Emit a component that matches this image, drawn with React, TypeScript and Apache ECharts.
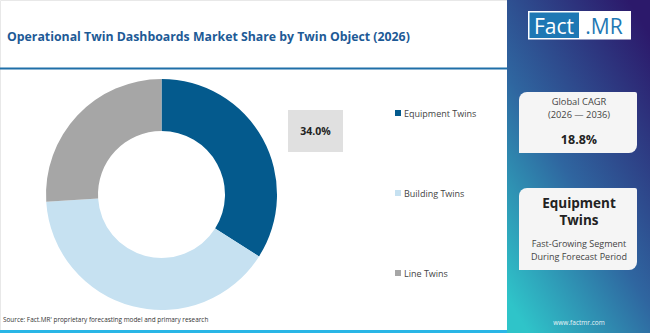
import React, { useEffect, useRef } from "react";
import * as echarts from "echarts";

// Market share by twin object, 2026 (%)
const segments = ["Equipment Twins", "Building Twins", "Line Twins"];
const shares = [34.0, 40.0, 26.0];
const colors = ["#045a8d", "#c6e1f1", "#a6a6a6"];

const titleText = "Operational Twin Dashboards Market Share by Twin Object (2026)";
const sourceText = "Source: Fact.MR' proprietary forecasting model and primary research";
const cagrLabel = ["Global CAGR", "(2026 \u2014 2036)"];
const cagrValue = "18.8%";
const leadSegment = ["Equipment", "Twins"];
const leadCaption = ["Fast-Growing Segment", "During Forecast Period"];

const FONT = "'Open Sans', 'Noto Sans', sans-serif";

export default function App() {
  const ref = useRef<HTMLDivElement>(null);

  useEffect(() => {
    if (!ref.current) return;
    const chart = echarts.init(ref.current, null, { renderer: "svg" });

    const panelX = 507;
    const panelW = 650 - panelX;
    const panelCx = panelX + panelW / 2 + 0.5;

    chart.setOption({
      animation: false,
      backgroundColor: "#ffffff",
      textStyle: { fontFamily: FONT },
      legend: {
        orient: "vertical",
        left: 390,
        top: 101,
        itemWidth: 6,
        itemHeight: 6,
        itemGap: 66,
        icon: "rect",
        selectedMode: false,
        textStyle: { fontSize: 9, color: "#444", fontFamily: FONT, lineHeight: 14, padding: [0, 0, 0, -2] },
        data: segments,
      },
      series: [
        {
          type: "pie",
          center: [161.5, 194.5],
          radius: [63.5, 115.5],
          startAngle: 90,
          clockwise: true,
          label: { show: false },
          labelLine: { show: false },
          emphasis: { disabled: true },
          data: segments.map((name, i) => ({
            name,
            value: shares[i],
            itemStyle: { color: colors[i] },
          })),
        },
      ],
      graphic: [
        // frame and header rule
        { type: "rect", shape: { x: 0.5, y: 0.5, width: panelX, height: 332 }, style: { fill: "none", stroke: "#e8e8e8", lineWidth: 1 }, silent: true },
        { type: "rect", shape: { x: 0, y: 67.5, width: panelX, height: 2 }, style: { fill: "#1f6fa8" }, silent: true },
        { type: "rect", shape: { x: 0, y: 330, width: panelX, height: 3 }, style: { fill: "#29b6e6" }, silent: true },
        {
          type: "text",
          x: 7,
          y: 36,
          style: { text: titleText, fontSize: 12.3, fontWeight: "bold", fill: "#1d5a96", verticalAlign: "middle", fontFamily: FONT },
        },
        {
          type: "text",
          x: 3,
          y: 319.5,
          style: { text: sourceText, fontSize: 6.4, fill: "#333", verticalAlign: "middle", fontFamily: FONT },
        },
        // value callout for the leading segment
        { type: "rect", shape: { x: 288, y: 110, width: 55, height: 42 }, style: { fill: "#e0e0e0" }, silent: true },
        {
          type: "text",
          x: 315.5,
          y: 131,
          style: {
            text: shares[0].toFixed(1) + "%",
            fontSize: 10.5,
            fontWeight: "bold",
            fill: "#222",
            align: "center",
            verticalAlign: "middle",
            fontFamily: FONT,
          },
        },
        // side panel
        {
          type: "rect",
          shape: { x: panelX, y: 0, width: panelW, height: 333 },
          style: {
            fill: new echarts.graphic.LinearGradient(0.15, 1, 0.85, 0, [
              { offset: 0, color: "#2fc4c9" },
              { offset: 0.45, color: "#2f66a0" },
              { offset: 1, color: "#2c196b" },
            ]),
          },
          silent: true,
        },
        // logo
        { type: "rect", shape: { x: 528, y: 11, width: 103, height: 28.5 }, style: { fill: "#ffffff" }, silent: true },
        { type: "rect", shape: { x: 529.5, y: 12.5, width: 49.5, height: 25.5 }, style: { fill: "#1e78b4" }, silent: true },
        {
          type: "text",
          x: 554,
          y: 25.5,
          style: { text: "Fact", fontSize: 21, fill: "#ffffff", align: "center", verticalAlign: "middle", fontFamily: FONT },
        },
        {
          type: "text",
          x: 604,
          y: 25.5,
          style: { text: ".MR", fontSize: 21, fill: "#1e78b4", align: "center", verticalAlign: "middle", fontFamily: FONT },
        },
        // CAGR card
        { type: "rect", shape: { x: 519, y: 92, width: 118, height: 61, r: [8, 2, 8, 0] }, style: { fill: "#f5f5f5" }, silent: true },
        {
          type: "text",
          x: panelCx,
          y: 101.5,
          style: { text: cagrLabel[0], fontSize: 9.3, fill: "#444", align: "center", verticalAlign: "middle", fontFamily: FONT },
        },
        {
          type: "text",
          x: panelCx,
          y: 114,
          style: { text: cagrLabel[1], fontSize: 9.3, fill: "#444", align: "center", verticalAlign: "middle", fontFamily: FONT },
        },
        {
          type: "text",
          x: panelCx,
          y: 139,
          style: { text: cagrValue, fontSize: 12.5, fontWeight: "bold", fill: "#222", align: "center", verticalAlign: "middle", fontFamily: FONT },
        },
        // leading segment card
        { type: "rect", shape: { x: 519, y: 188, width: 118, height: 82, r: [8, 2, 8, 0] }, style: { fill: "#f5f5f5" }, silent: true },
        {
          type: "text",
          x: panelCx,
          y: 203,
          style: { text: leadSegment[0], fontSize: 13.5, fontWeight: "bold", fill: "#222", align: "center", verticalAlign: "middle", fontFamily: FONT },
        },
        {
          type: "text",
          x: panelCx,
          y: 220,
          style: { text: leadSegment[1], fontSize: 13.5, fontWeight: "bold", fill: "#222", align: "center", verticalAlign: "middle", fontFamily: FONT },
        },
        {
          type: "text",
          x: panelCx,
          y: 243,
          style: { text: leadCaption[0], fontSize: 9, fill: "#444", align: "center", verticalAlign: "middle", fontFamily: FONT },
        },
        {
          type: "text",
          x: panelCx,
          y: 256,
          style: { text: leadCaption[1], fontSize: 9, fill: "#444", align: "center", verticalAlign: "middle", fontFamily: FONT },
        },
        {
          type: "text",
          x: panelCx,
          y: 322,
          style: { text: "www.factmr.com", fontSize: 6.5, fill: "#e8f4f8", align: "center", verticalAlign: "middle", fontFamily: FONT },
        },
      ],
    });

    return () => chart.dispose();
  }, []);

  return (
    <div
      ref={ref}
      style={{ position: "fixed", left: 0, top: 0, width: 650, height: 333 }}
    />
  );
}
